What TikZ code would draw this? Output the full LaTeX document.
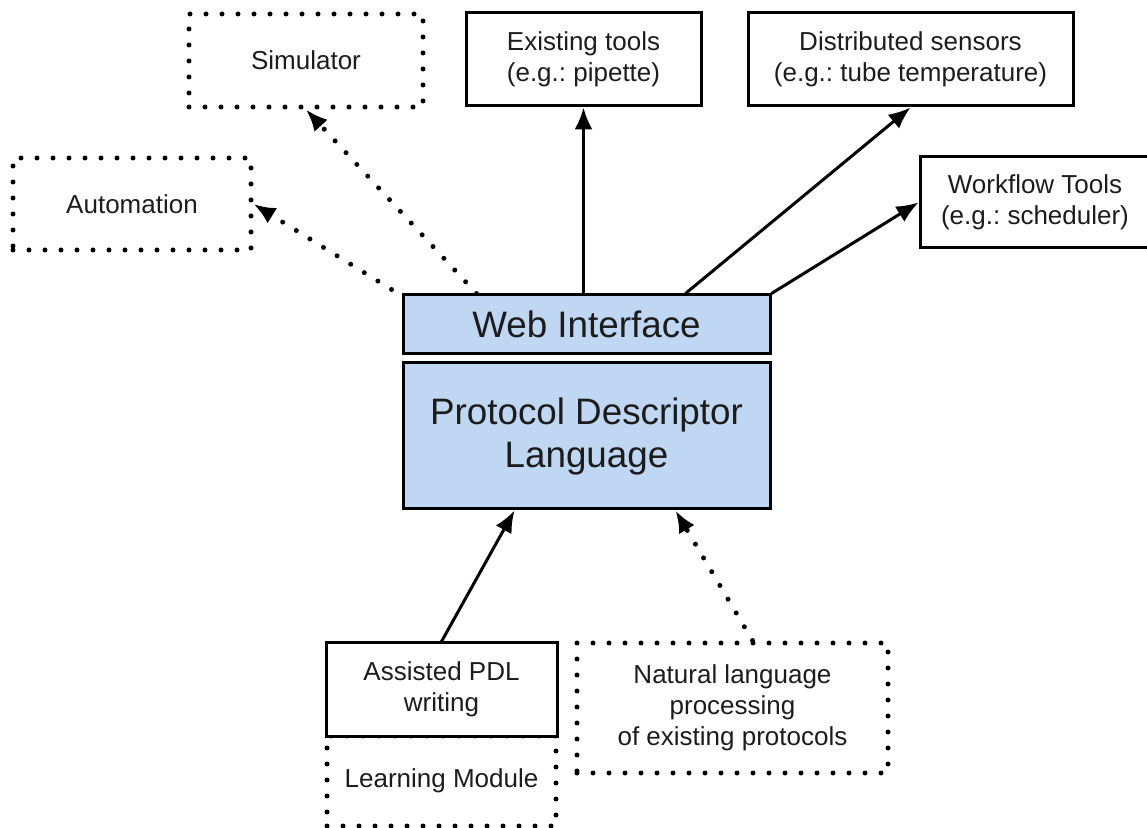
\documentclass[tikz,border=0pt]{standalone}
\usepackage{fontspec}
\setmainfont{Liberation Sans}
\usetikzlibrary{arrows.meta,calc}
\definecolor{pdlblue}{RGB}{192,215,243}
\definecolor{inkgray}{RGB}{28,28,28}
\tikzset{
  box/.style={draw, line width=1.5pt, align=center, text=inkgray, inner sep=0pt,
    font=\fontsize{13}{15.5}\selectfont\frenchspacing},
  dotbox/.style={box, line width=2.5pt, dash pattern=on 0pt off 8pt, line cap=round},
  bluebox/.style={box, fill=pdlblue, font=\fontsize{18.4}{21.5}\selectfont},
  link/.style={line width=1.5pt, -{Latex[length=11pt,width=9pt]}},
  dotlink/.style={link, line width=2.5pt, dash pattern=on 0pt off 8pt, line cap=round},
}
\begin{document}
\begin{tikzpicture}[x=0.5pt,y=-0.5pt]
        \useasboundingbox (0,0) rectangle (1147,828);
        % outputs of the web interface
        \node[dotbox, minimum width=117pt, minimum height=46.5pt] (sim) at (306,60.5) {Simulator};
        \node[dotbox, minimum width=119pt, minimum height=46pt] (auto) at (132,204) {Automation};
        \node[box, minimum width=117.5pt, minimum height=46.5pt] (exist) at (583.5,59.5) {Existing tools\\(e.g.: pipette)};
        \node[box, minimum width=162.5pt, minimum height=46.5pt] (dist) at (910.5,59.5) {Distributed sensors\\(e.g.: tube temperature)};
        \node[box, minimum width=115pt, minimum height=45.5pt] (work) at (1035,202.5) {Workflow Tools\\(e.g.: scheduler)};
        % core
        \node[bluebox, minimum width=183.5pt, minimum height=29.5pt] (web) at (586.5,324.5) {Web Interface};
        \node[bluebox, minimum width=183.5pt, minimum height=73pt] (pdl) at (586.5,436) {Protocol Descriptor\\Language};
        % inputs
        \node[dotbox, minimum width=114.5pt, minimum height=45pt] (learn) at (441.5,781) {Learning Module};
        \node[box, fill=white, minimum width=115.5pt, minimum height=46.5pt] (assist) at (441.5,689.5) {Assisted PDL\\writing};
        \node[dotbox, minimum width=155.5pt, minimum height=65pt] (nat) at (732.5,708) {Natural language\\processing\\of existing protocols};

        \draw[dotlink] ($(web.north west)+(75,0)$) -- (sim.south);
        \draw[dotlink] ($(web.north west)+(-10,-4)$) -- (auto.east);
        \draw[link] (exist.south |- web.north) -- (exist.south);
        \draw[link] ($(web.north west)+(284,0)$) -- (dist.south);
        \draw[link] (web.north east) -- (work.west);
        \draw[link] (assist.north) -- ($(pdl.south west)+(113,0)$);
        \draw[dotlink] ($(nat.north)+(20,0)$) -- ($(pdl.south west)+(274,0)$);
    \end{tikzpicture}
\end{document}
